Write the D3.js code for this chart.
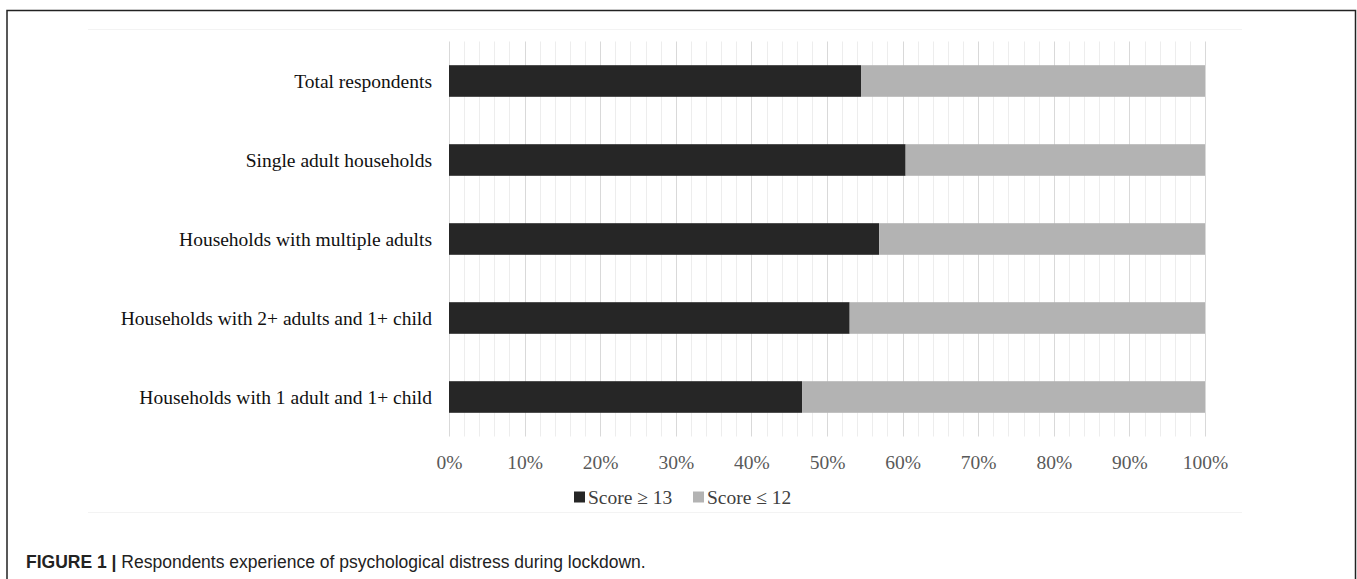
<!DOCTYPE html>
<html>
<head>
<meta charset="utf-8">
<script src="https://cdn.jsdelivr.net/npm/d3@7"></script>
<style>
  html, body { margin: 0; padding: 0; background: #fff; }
  svg { display: block; }
</style>
</head>
<body>
<svg id="chart" width="1357" height="579"></svg>
<script>
const categories = [
  "Total respondents",
  "Single adult households",
  "Households with multiple adults",
  "Households with 2+ adults and 1+ child",
  "Households with 1 adult and 1+ child"
];
const seriesNames = ["Score \u2265 13", "Score \u2264 12"];
const scoreHigh = [54.5, 60.4, 56.9, 53.0, 46.7];
const scoreLow = [45.5, 39.6, 43.1, 47.0, 53.3];
const tickValues = [0, 10, 20, 30, 40, 50, 60, 70, 80, 90, 100];
const colors = ["#262626", "#b3b3b3"];
const captionBold = "FIGURE 1 |";
const captionText = " Respondents experience of psychological distress during lockdown.";

(function () {
const svg = d3.select("#chart");
const W = 1357, H = 579;

// outer frame (open at bottom)
svg.append("path")
  .attr("d", `M7,${H} V10.5 H1355.5 V${H}`)
  .attr("fill", "none").attr("stroke", "#222").attr("stroke-width", 1.5);

// faint chart-area borders
svg.append("line").attr("x1", 88).attr("x2", 1242).attr("y1", 29.5).attr("y2", 29.5)
  .attr("stroke", "#f3f3f3").attr("stroke-width", 1);
svg.append("line").attr("x1", 88).attr("x2", 1242).attr("y1", 512.5).attr("y2", 512.5)
  .attr("stroke", "#f3f3f3").attr("stroke-width", 1);

const pLeft = 449, pRight = 1205, pTop = 41.5, pBottom = 436.5;
const x = d3.scaleLinear().domain([0, 100]).range([pLeft, pRight]);
const y = d3.scaleBand().domain(categories).range([pTop, pBottom]).paddingInner(0.6).paddingOuter(0.3);

// gridlines (minor every 2%, major every 10%)
const minor = d3.range(0, 101, 2).filter(v => v % 10 !== 0);
svg.append("g").selectAll("line").data(minor).join("line")
  .attr("x1", d => Math.round(x(d)) + 0.5).attr("x2", d => Math.round(x(d)) + 0.5)
  .attr("y1", pTop).attr("y2", pBottom)
  .attr("stroke", "#ededed").attr("stroke-width", 1);
svg.append("g").selectAll("line").data(tickValues).join("line")
  .attr("x1", d => Math.round(x(d)) + 0.5).attr("x2", d => Math.round(x(d)) + 0.5)
  .attr("y1", pTop).attr("y2", pBottom)
  .attr("stroke", "#d9d9d9").attr("stroke-width", 1);

// stacked bars
const rows = categories.map((c, i) => ({ cat: c, high: scoreHigh[i], low: scoreLow[i] }));
const stacked = d3.stack().keys(["high", "low"])(rows);
svg.append("g").selectAll("g").data(stacked).join("g")
  .attr("fill", (d, i) => colors[i])
  .selectAll("rect").data(d => d).join("rect")
  .attr("x", d => x(d[0]))
  .attr("width", d => x(d[1]) - x(d[0]))
  .attr("y", d => y(d.data.cat))
  .attr("height", y.bandwidth());

// category labels
svg.append("g").selectAll("text").data(categories).join("text")
  .attr("x", 432)
  .attr("y", d => y(d) + y.bandwidth() / 2)
  .attr("dy", "0.35em")
  .attr("text-anchor", "end")
  .attr("font-family", "'Liberation Serif', 'Times New Roman', serif")
  .attr("font-size", 19.5)
  .attr("fill", "#111")
  .text(d => d);

// x axis tick labels
const xAxis = d3.axisBottom(x).tickValues(tickValues).tickSize(0).tickPadding(0)
  .tickFormat(d => d + "%");
const ax = svg.append("g").attr("transform", `translate(0, 455)`).call(xAxis);
ax.select(".domain").remove();
ax.selectAll("text")
  .attr("font-family", "'Liberation Serif', 'Times New Roman', serif")
  .attr("font-size", 19.5)
  .attr("fill", "#595959");

// legend
const legend = svg.append("g");
const legendX = [574, 693];
seriesNames.forEach((name, i) => {
  legend.append("rect").attr("x", legendX[i]).attr("y", 491.5).attr("width", 11).attr("height", 11)
    .attr("fill", colors[i]);
  legend.append("text").attr("x", legendX[i] + 14).attr("y", 497).attr("dy", "0.35em")
    .attr("font-family", "'Liberation Serif', 'Times New Roman', serif")
    .attr("font-size", 19.5).attr("fill", "#404040").text(name);
});

// caption
const cap = svg.append("text").attr("x", 26).attr("y", 568)
  .attr("font-family", "'Liberation Sans', Arial, sans-serif")
  .attr("font-size", 17.5).attr("fill", "#222");
cap.append("tspan").attr("font-weight", "bold").text(captionBold);
cap.append("tspan").text(captionText);
})();
</script>
</body>
</html>
